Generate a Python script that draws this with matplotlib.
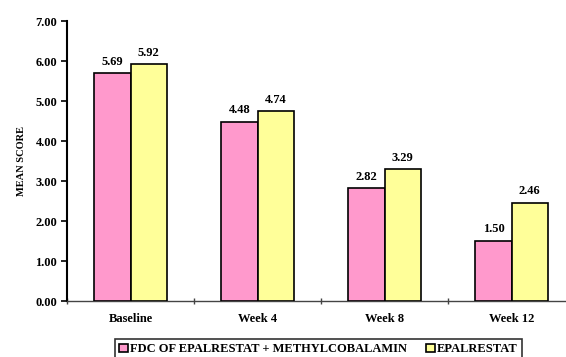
import matplotlib
matplotlib.use("Agg")
import matplotlib.pyplot as plt
import numpy as np

# Mean score by visit for the two treatment arms
categories = ["Baseline", "Week 4", "Week 8", "Week 12"]
series_names = ["FDC OF EPALRESTAT + METHYLCOBALAMIN", "EPALRESTAT"]
fdc_values = [5.69, 4.48, 2.82, 1.50]
epalrestat_values = [5.92, 4.74, 3.29, 2.46]
y_ticks = [0, 1, 2, 3, 4, 5, 6, 7]

plt.rcParams["font.family"] = ["Liberation Serif", "DejaVu Serif"]
plt.rcParams["font.weight"] = "bold"

fig = plt.figure(figsize=(5.66, 3.57), dpi=100)
ax = fig.add_axes([67 / 566, 56 / 357, 508 / 566, 280 / 357])

x = np.arange(len(categories))
width = 0.284
colors = ["#FF99CC", "#FFFF99"]
for i, (vals, name, col) in enumerate(zip([fdc_values, epalrestat_values], series_names, colors)):
    pos = x + (i - 0.5) * width
    bars = ax.bar(pos, vals, width=width, color=col, edgecolor="black",
                  linewidth=1.2, label=name, zorder=3)
    for b, v in zip(bars, vals):
        ax.annotate(f"{v:.2f}", (b.get_x() + b.get_width() / 2, v),
                    xytext=(0, 4), textcoords="offset points",
                    ha="center", va="bottom", fontsize=9, fontweight="bold")

ax.set_xlim(-0.5, len(categories) - 0.5)
ax.set_ylim(0, 7)
ax.set_yticks(y_ticks)
ax.set_yticklabels([f"{t:.2f}" for t in y_ticks], fontsize=9, fontweight="bold")
ax.set_ylabel("MEAN SCORE", fontsize=7.5, fontweight="bold", labelpad=7)

# category labels centred on groups, ticks on group boundaries
ax.set_xticks(np.arange(len(categories) + 1) - 0.5)
ax.set_xticklabels([])
ax.set_xticks(x, minor=True)
ax.set_xticklabels(categories, minor=True, fontsize=9, fontweight="bold")
ax.tick_params(axis="x", which="minor", length=0, pad=9)
ax.tick_params(axis="x", which="major", length=4, width=1, direction="inout", color="#444444")
ax.tick_params(axis="y", length=4, width=1.2, direction="out", pad=3)

for s in ["top", "right"]:
    ax.spines[s].set_visible(False)
ax.spines["left"].set_linewidth(1.5)
ax.spines["bottom"].set_linewidth(1.0)
ax.spines["bottom"].set_color("#444444")

leg = fig.legend(loc="upper left", bbox_to_anchor=(115 / 566, 1 - 339 / 357),
                 ncol=2, fontsize=9, frameon=True, fancybox=False,
                 edgecolor="black", handlelength=0.7, handleheight=0.7,
                 handletextpad=0.15, columnspacing=1.5, borderpad=0.35,
                 borderaxespad=0)
leg.get_frame().set_linewidth(1.2)
for t in leg.get_texts():
    t.set_fontweight("bold")

fig.savefig("out.png", dpi=100)
